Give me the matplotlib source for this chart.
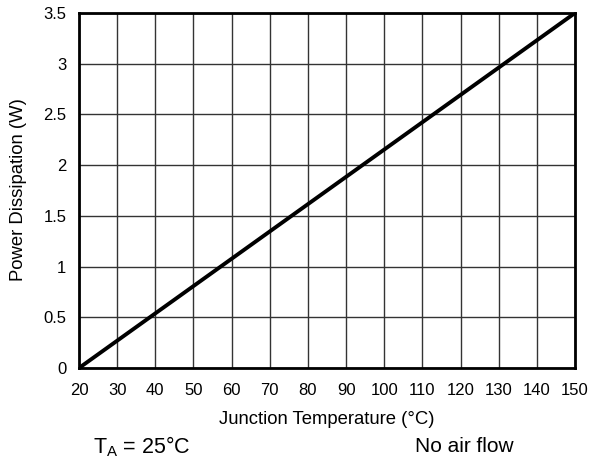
import numpy as np
import matplotlib.pyplot as plt

plt.rcParams['font.family'] = ['Liberation Sans', 'DejaVu Sans']

temps = [20, 150]
power = [0.0, 3.5]
xticks = list(range(20, 151, 10))
yticks = [0, 0.5, 1, 1.5, 2, 2.5, 3, 3.5]
yticklabels = ['0', '0.5', '1', '1.5', '2', '2.5', '3', '3.5']

fig = plt.figure(figsize=(5.92, 4.63), dpi=100)
ax = fig.add_axes([79/592, 1 - 368/463, (575-79)/592, (368-13)/463])

ax.plot(temps, power, color='black', lw=2.8, solid_capstyle='butt', zorder=3)
ax.set_xlim(20, 150)
ax.set_ylim(0, 3.5)
ax.set_xticks(xticks)
ax.set_yticks(yticks)
ax.set_yticklabels(yticklabels)
ax.grid(True, color='#333333', lw=1.0)
ax.tick_params(length=0, labelsize=12)
ax.tick_params(axis='x', pad=11)
ax.tick_params(axis='y', pad=9)
for s in ax.spines.values():
    s.set_linewidth(2)
    s.set_zorder(4)

fig.text(327/592, 1 - 420/463, 'Junction Temperature (°C)', fontsize=13.3, ha='center', va='center')
fig.text(19/592, 1 - 190/463, 'Power Dissipation (W)', fontsize=13.3, ha='center', va='center', rotation=90)

fig.text(93/592, 1 - 447/463, r'T$_\mathregular{A}$ = 25°C', fontsize=15.5, va='center', ha='left')
fig.text(415/592, 1 - 447/463, 'No air flow', fontsize=15, va='center', ha='left')

fig.savefig('out.png', dpi=100)
